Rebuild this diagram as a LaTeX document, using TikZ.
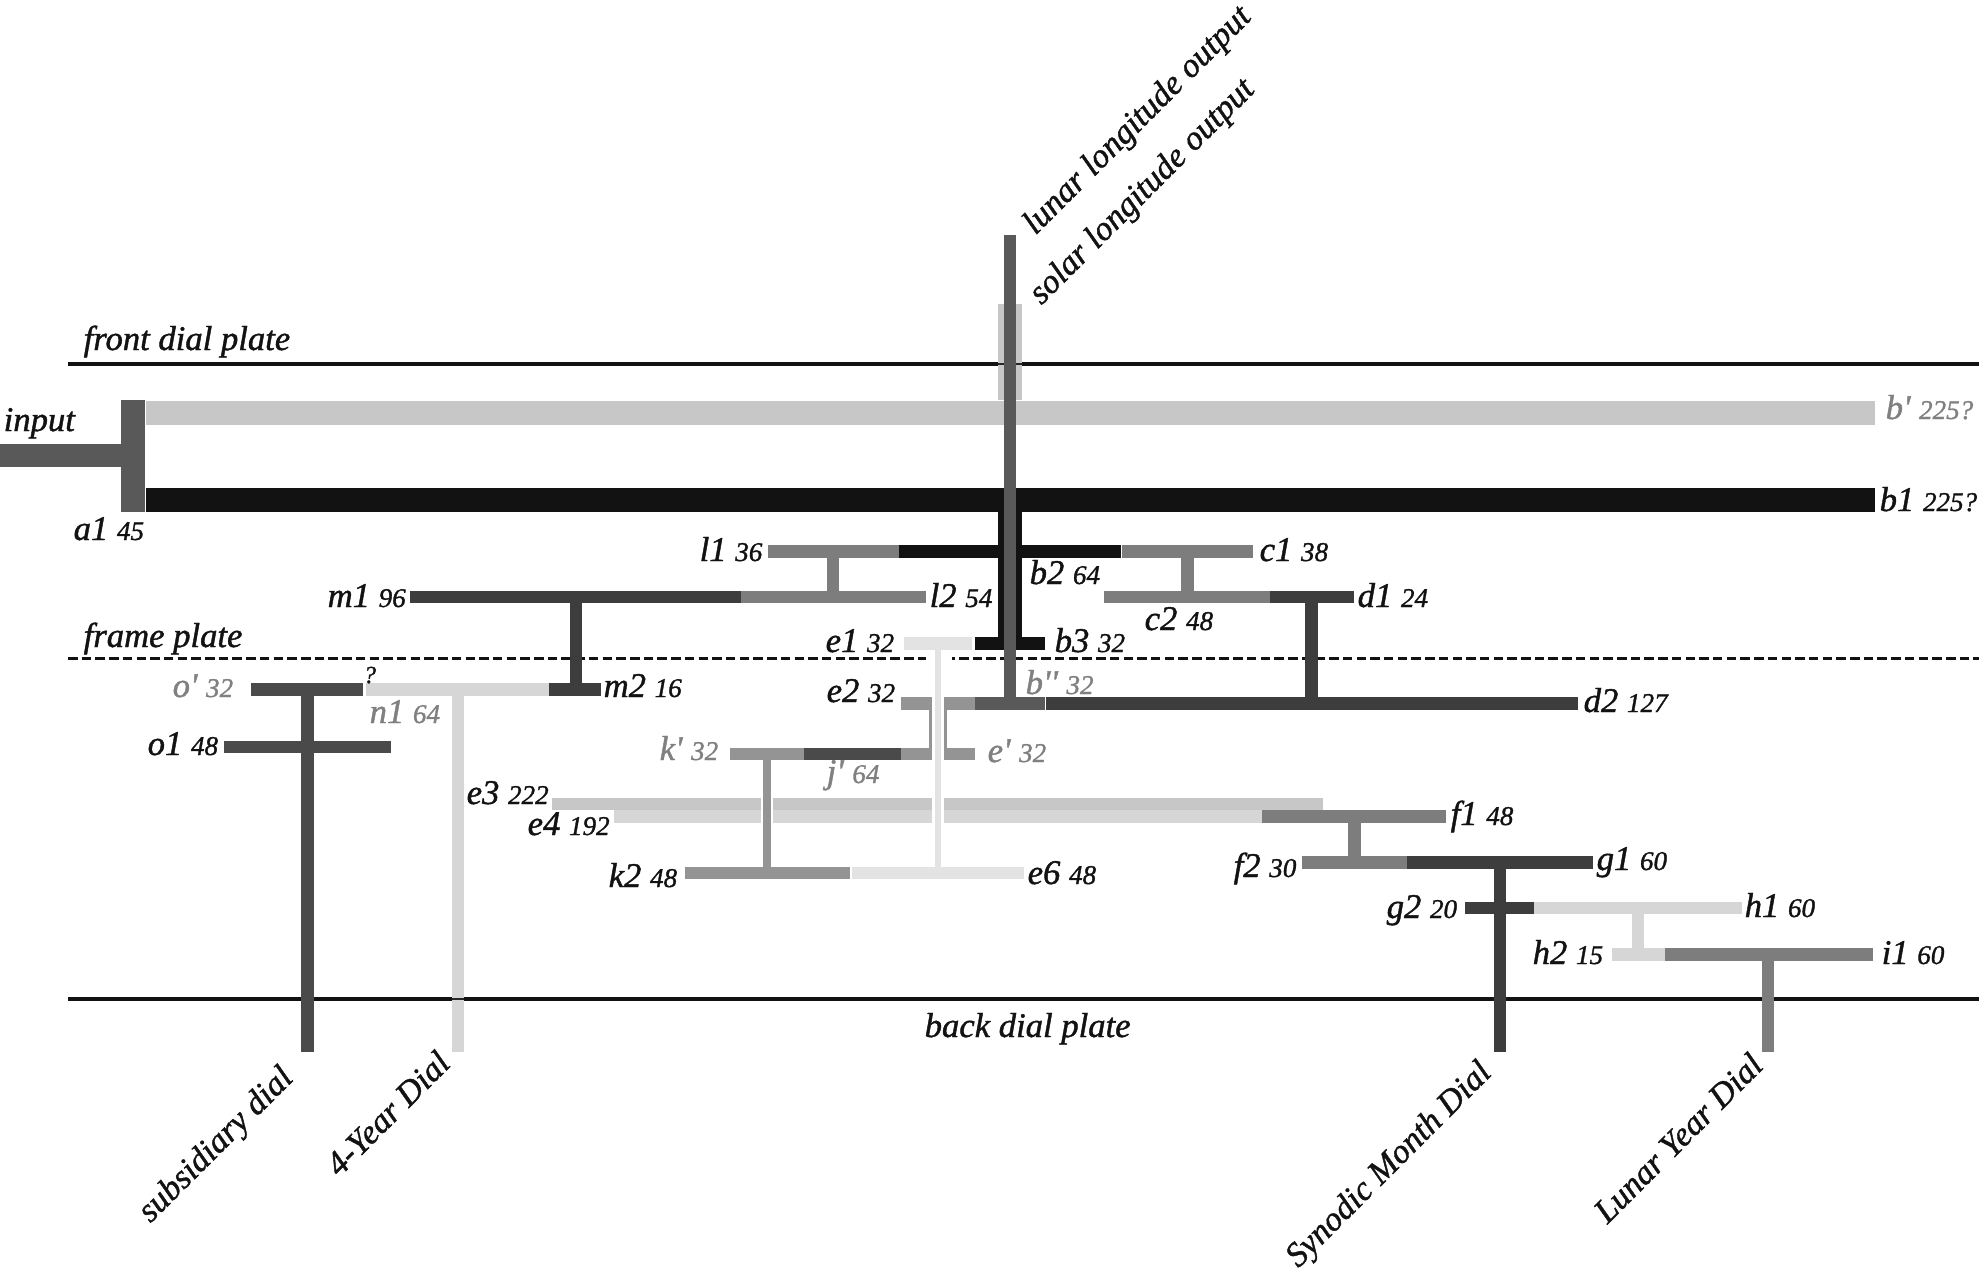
\documentclass[tikz,border=0pt]{standalone}
\usepackage{fontspec}
\setmainfont{Liberation Serif}[Ligatures=TeXOff,ItalicFeatures={FakeBold=1.2}]
\usetikzlibrary{calc,positioning}
\newcommand{\teeth}[1]{{\fontsize{7.7}{9}\selectfont #1}}

\begin{document}
\begin{tikzpicture} [x=0.01cm,y=-0.01cm,lab/.style={font=\fontsize{9.85}{12}\selectfont\itshape,text=black!93,inner sep=0pt,anchor=base west},labgray/.style={lab,text=black!50},labturn/.style={lab,rotate=45,font=\fontsize{9.7}{12}\selectfont\itshape},plate/.style={color=black!93,line width=0.4mm},wheel/.style={line width=1.25mm},wide/.style={line width=2.4mm},hollow/.style={color=white,line width=1.15mm},ink/.style={color=black!93},ashA/.style={color=black!76},ashB/.style={color=black!65},ashC/.style={color=black!51},ashD/.style={color=black!22},ashE/.style={color=black!16},ashF/.style={color=black!11},ashG/.style={color=black!42},ashH/.style={color=black!71}]
	\useasboundingbox (0,0) rectangle (1979,1269);
	%%plates
	\coordinate (FL) at (68,364);
	\coordinate (FR) at (1979,364);
	\coordinate (ML) at (68,658);
	\coordinate (MR) at (1979,658);
	\coordinate (BL) at (68,999);
	\coordinate (BR) at (1979,999);
	\draw [plate] (FL) -- (FR);
	\draw [plate,line width=0.3mm,dash pattern=on 0.95mm off 0.42mm] (ML) -- (MR);
	\draw [plate] (BL) -- (BR);
	%%input and a1
	\draw [ashB,line width=2.3mm] (0,455.5) -- (121,455.5);
	\draw [ashB,line width=2.4mm] (133,400) -- (133,512);
	%%b1 and b'
	\draw [ashD,wide] (146,412.5) -- (1875,412.5);
	\draw [ashD,wide] (1010,304) -- (1010,400);
	\draw [black!85,line width=0.15mm] (998,364) -- (1022,364);
	\draw [ink,wide] (146,500) -- (1875,500);
	\draw [ink,wide] (1010,512) -- (1010,650);
	\draw [ink,wheel] (899,551.5) -- (1121,551.5);
	\draw [ink,wheel] (975,643.5) -- (1045,643.5);
	%%sun spindle and b''
	\draw [ashB,line width=1.2mm] (1010,235) -- (1010,697);
	\draw [ashB,wheel] (975,703.5) -- (1045,703.5);
	%%c and d
	\draw [ashC,wheel] (1121.5,551.5) -- (1253,551.5);
	\draw [ashC,wheel] (1187.5,558) -- (1187.5,591);
	\draw [ashC,wheel] (1104,597) -- (1270,597);
	\draw [ashA,wheel] (1270,597) -- (1353.5,597);
	\draw [ashA,wheel] (1311.5,603) -- (1311.5,697);
	\draw [ashA,wheel] (1046,703.5) -- (1578,703.5);
	%%l and m
	\draw [ashC,wheel] (767.5,551.5) -- (899,551.5);
	\draw [ashC,wheel] (833,558) -- (833,591);
	\draw [ashC,wheel] (741,597) -- (926,597);
	\draw [ashA,wheel] (409.5,597) -- (741,597);
	\draw [ashA,wheel] (576,603) -- (576,683);
	\draw [ashA,wheel] (549,689.5) -- (601,689.5);
	%%n and o
	\draw [ashE,wheel] (366,689.5) -- (549,689.5);
	\draw [ashE,wheel] (458,696) -- (458,1052);
	\draw [black!85,line width=0.15mm] (452,999) -- (464,999);
	\draw [ashH,wheel] (251,689.5) -- (362.5,689.5);
	\draw [ashH,wheel] (307.5,696) -- (307.5,1052);
	\draw [ashH,wheel] (224,747) -- (390.5,747);
	%%e train
	\draw [ashD,wheel] (552,804) -- (1323,804);
	\draw [ashE,wheel] (614,816.5) -- (1262,816.5);
	\draw [ashG,wheel] (901,703.5) -- (975,703.5);
	\draw [ashG,wheel] (730,754) -- (804,754);
	\draw [ashH,wheel] (804,754) -- (901,754);
	\draw [ashG,wheel] (901,754) -- (975,754);
	\draw [ashG,line width=1.8mm] (938,709) -- (938,748);
	\draw [hollow] (938,697) -- (938,823);
	\draw [hollow] (767,798) -- (767,823);
	\draw [white,line width=2.6mm] (939,655) -- (939,661);
	\draw [ashF,wheel] (904,643.5) -- (972,643.5);
	\draw [ashF,line width=0.6mm] (938,650) -- (938,867);
	\draw [ashG,line width=0.8mm] (767,760) -- (767,867);
	\draw [ashG,wheel] (684.5,873) -- (850,873);
	\draw [ashF,wheel] (852,873) -- (1024,873);
	%%f g h i
	\draw [ashC,wheel] (1262,816.5) -- (1446,816.5);
	\draw [ashC,wheel] (1354.5,823) -- (1354.5,856);
	\draw [ashC,wheel] (1302,862.5) -- (1406.5,862.5);
	\draw [ashA,wheel] (1406.5,862.5) -- (1593,862.5);
	\draw [ashA,wheel] (1500,869) -- (1500,1052);
	\draw [ashA,wheel] (1465,908) -- (1534,908);
	\draw [ashE,wheel] (1534,908) -- (1742,908);
	\draw [ashE,wheel] (1638,914) -- (1638,948);
	\draw [ashE,wheel] (1612,954.5) -- (1665,954.5);
	\draw [ashC,wheel] (1665,954.5) -- (1872.5,954.5);
	\draw [ashC,wheel] (1768,961) -- (1768,1052);
	%%plate names
	\node [lab] (front) at (83,350) {front dial plate};
	\node [lab] (frame) at (83,647) {frame plate};
	\node [lab] (back) at (924,1037) {back dial plate};
	\node [lab] (input) at (3,431) {input};
	%%wheel names
	\node [lab] (a1) at (73,540) {a1 \teeth{45}};
	\node [labgray] (bp) at (1885,419) {b' \teeth{225?}};
	\node [lab] (b1) at (1879,511) {b1 \teeth{225?}};
	\node [lab] (b2) at (1029,584) {b2 \teeth{64}};
	\node [lab] (b3) at (1054,652) {b3 \teeth{32}};
	\node [labgray] (bpp) at (1025,694) {b'' \teeth{32}};
	\node [lab] (c1) at (1259,561) {c1 \teeth{38}};
	\node [lab] (c2) at (1144,630) {c2 \teeth{48}};
	\node [lab] (d1) at (1357,607) {d1 \teeth{24}};
	\node [lab] (d2) at (1583,712) {d2 \teeth{127}};
	\node [lab] (l1) at (699,561) {l1 \teeth{36}};
	\node [lab] (l2) at (929,607) {l2 \teeth{54}};
	\node [lab] (m1) at (327,607) {m1 \teeth{96}};
	\node [lab] (m2) at (603,697) {m2 \teeth{16}};
	\node [labgray] (np) at (369,723) {n1 \teeth{64}};
	\node [labgray] (op) at (172,697) {o' \teeth{32}};
	\node [lab] (o1) at (147,755) {o1 \teeth{48}};
	\node [lab,font=\fontsize{7}{8}\selectfont\itshape] (quest) at (363,683) {?};
	\node [lab] (e1) at (825,652) {e1 \teeth{32}};
	\node [lab] (e2) at (826,702) {e2 \teeth{32}};
	\node [labgray] (ep) at (987,762) {e' \teeth{32}};
	\node [lab] (e3) at (466,804) {e3 \teeth{222}};
	\node [lab] (e4) at (527,835) {e4 \teeth{192}};
	\node [lab] (e6) at (1027,884) {e6 \teeth{48}};
	\node [labgray] (kp) at (659,760) {k' \teeth{32}};
	\node [labgray] (jp) at (826,783) {j' \teeth{64}};
	\node [lab] (k2) at (608,887) {k2 \teeth{48}};
	\node [lab] (f1) at (1450,825) {f1 \teeth{48}};
	\node [lab] (f2) at (1233,877) {f2 \teeth{30}};
	\node [lab] (g1) at (1596,870) {g1 \teeth{60}};
	\node [lab] (g2) at (1386,918) {g2 \teeth{20}};
	\node [lab] (h1) at (1744,917) {h1 \teeth{60}};
	\node [lab] (h2) at (1532,964) {h2 \teeth{15}};
	\node [lab] (i1) at (1881,964) {i1 \teeth{60}};
	%%outputs
	\node [labturn] (lunar) at (1035,236) {lunar longitude output};
	\node [labturn] (solar) at (1041,306) {solar longitude output};
	\node [labturn] (subs) at (150,1224) {subsidiary dial};
	\node [labturn] (four) at (339,1178) {4-Year Dial};
	\node [labturn] (syn) at (1298,1269) {Synodic Month Dial};
	\node [labturn] (lun) at (1607,1225) {Lunar Year Dial};
\end{tikzpicture}
\end{document}
